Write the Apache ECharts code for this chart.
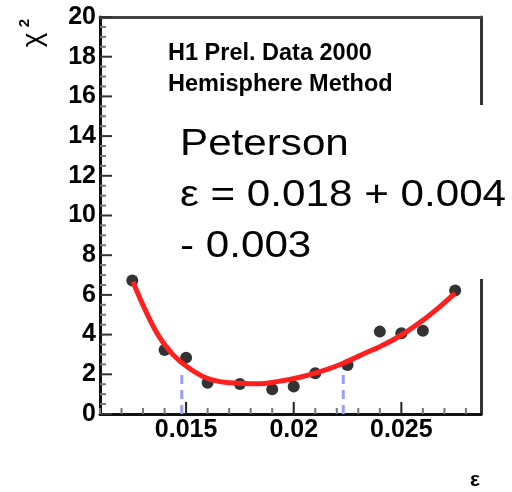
<!DOCTYPE html>
<html>
<head>
<meta charset="utf-8">
<script src="https://cdn.jsdelivr.net/npm/echarts@6/dist/echarts.min.js"></script>
<style>
  html, body { margin: 0; padding: 0; background: #fff; }
  #chart { width: 512px; height: 492px; }
</style>
</head>
<body>
<div id="chart"></div>
<script>
// Measured chi-square values vs. the Peterson fragmentation parameter epsilon
const epsPoints  = [0.0125, 0.014, 0.015, 0.016, 0.0175, 0.019, 0.020, 0.021, 0.0225, 0.024, 0.025, 0.026, 0.0275];
const chi2Points = [6.72, 3.23, 2.84, 1.58, 1.51, 1.25, 1.38, 2.05, 2.47, 4.15, 4.07, 4.19, 6.22];

// Fitted chi-square curve
const fitEps  = [0.01253, 0.01317, 0.01379, 0.0144, 0.01503, 0.0158, 0.01657, 0.0175, 0.01843, 0.01905,
                 0.02029, 0.02137, 0.0223, 0.02346, 0.0240, 0.02501, 0.02602, 0.02679, 0.02749];
const fitChi2 = [6.66, 5.08, 3.82, 2.98, 2.39, 1.88, 1.63, 1.55, 1.52, 1.6,
                 1.85, 2.18, 2.56, 3.14, 3.39, 3.98, 4.74, 5.41, 6.09];

// One-sigma interval edges (delta chi-square = 1)
const errEps  = [0.0148, 0.0223];
const errChi2 = [2.25, 2.3];

// Axis ranges and tick positions
const xRange = [0.011, 0.0287];
const xMinorStep = 0.001;
const xMajorTicks = [0.015, 0.02, 0.025];
const xMinorTicks = [0.011, 0.012, 0.013, 0.014, 0.016, 0.017, 0.018, 0.019,
                     0.021, 0.022, 0.023, 0.024, 0.026, 0.027, 0.028];
const yRange = [0, 20];
const yStep = 2;
const yMajorTicks = [0, 2, 4, 6, 8, 10, 12, 14, 16, 18, 20];
const yMinorPerMajor = 4;

// Text blocks
const headerLines = ['H1 Prel. Data 2000', 'Hemisphere Method'];
const fitLines = ['Peterson', 'ε = 0.018 + 0.004', '- 0.003'];
const yTitleParts = ['χ', '2'];
const xTitle = 'ε';

const FONT = '"Liberation Sans", Arial, Helvetica, sans-serif';
const chart = echarts.init(document.getElementById('chart'), null, { renderer: 'canvas' });

const zip = (a, b) => a.map((v, i) => [v, b[i]]);
const tickLabel = { fontFamily: FONT, fontSize: 25, fontWeight: 'bold', color: '#000' };

// sub-divisions between the labelled chi-square ticks
const yMinorTicks = [];
for (let i = 0; i < yMajorTicks.length - 1; i++) {
  for (let k = 1; k < yMinorPerMajor; k++) {
    yMinorTicks.push(yMajorTicks[i] + (yMajorTicks[i + 1] - yMajorTicks[i]) * k / yMinorPerMajor);
  }
}

// label only the major epsilon values
const majorLabel = v => {
  const m = xMajorTicks.find(t => Math.abs(t - v) < 1e-7);
  return m === undefined ? '' : String(m);
};

const errSeries = errEps.map((e, i) => ({
  type: 'line',
  data: [[e, 0], [e, errChi2[i]]],
  symbol: 'none',
  silent: true,
  z: 2,
  lineStyle: { color: '#9c9cff', width: 3, type: [9, 6] }
}));

const textGraphics = [
  // white panel carrying the fit result
  { type: 'rect', z: 50, shape: { x: 160, y: 105, width: 352, height: 174 },
    style: { fill: '#fff' } },
  { type: 'text', z: 51, x: 168, y: 54,
    style: { text: headerLines[0], font: 'bold 23.5px ' + FONT, fill: '#000',
             textAlign: 'left', textVerticalAlign: 'middle' } },
  { type: 'text', z: 51, x: 168, y: 85,
    style: { text: headerLines[1], font: 'bold 23.5px ' + FONT, fill: '#000',
             textAlign: 'left', textVerticalAlign: 'middle' } }
].concat(fitLines.map((t, i) => ({
    type: 'text', z: 51, x: 180, y: 145 + i * 51, scaleX: 1.14,
    style: { text: t, font: '37px ' + FONT, fill: '#000',
             textAlign: 'left', textVerticalAlign: 'middle' }
}))).concat([
  { type: 'text', z: 51, x: 33.5, y: 40, rotation: Math.PI / 2,
    style: { text: yTitleParts[0], font: '28px ' + FONT, fill: '#000',
             textAlign: 'center', textVerticalAlign: 'middle' } },
  { type: 'text', z: 51, x: 25, y: 23, rotation: Math.PI / 2,
    style: { text: yTitleParts[1], font: 'bold 15px ' + FONT, fill: '#000',
             textAlign: 'center', textVerticalAlign: 'middle' } },
  { type: 'text', z: 51, x: 475, y: 480,
    style: { text: xTitle, font: 'bold 21px ' + FONT, fill: '#000',
             textAlign: 'center', textVerticalAlign: 'middle' } }
]);

const option = {
  animation: false,
  grid: { left: 100, top: 17, right: 31, bottom: 78 },
  xAxis: [
    {
      type: 'value', min: xRange[0], max: xRange[1], interval: xMinorStep, position: 'bottom',
      splitLine: { show: false },
      axisLine: { show: true, onZero: false, lineStyle: { color: '#111', width: 3 } },
      axisTick: { show: false },
      axisLabel: Object.assign({ margin: 4, formatter: majorLabel, hideOverlap: false }, tickLabel)
    },
    {
      // upper frame edge
      type: 'value', min: xRange[0], max: xRange[1], position: 'top',
      splitLine: { show: false },
      axisLine: { show: true, onZero: false, lineStyle: { color: '#444', width: 3 } },
      axisTick: { show: false },
      axisLabel: { show: false }
    }
  ],
  yAxis: [
    {
      type: 'value', min: yRange[0], max: yRange[1], interval: yStep, position: 'left',
      splitLine: { show: false },
      axisLine: { show: true, onZero: false, lineStyle: { color: '#111', width: 3 } },
      axisTick: { show: false },
      axisLabel: Object.assign({ margin: 4 }, tickLabel)
    },
    {
      // right frame edge
      type: 'value', min: yRange[0], max: yRange[1], interval: yStep, position: 'right',
      splitLine: { show: false },
      axisLine: { show: true, onZero: false, lineStyle: { color: '#333', width: 3 } },
      axisTick: { show: false },
      axisLabel: { show: false }
    }
  ],
  series: [
    {
      type: 'scatter',
      data: zip(epsPoints, chi2Points),
      symbol: 'circle',
      symbolSize: 12,
      itemStyle: { color: '#000' },
      z: 3
    },
    {
      type: 'line',
      data: zip(fitEps, fitChi2),
      smooth: 0.4,
      symbol: 'none',
      lineStyle: { color: '#ff2020', width: 5 },
      z: 4
    }
  ].concat(errSeries),
  graphic: textGraphics
};

chart.setOption(option);

// inward tick marks, placed through the axis scales once the grid is laid out
const toX = v => chart.convertToPixel({ xAxisIndex: 0 }, v);
const toY = v => chart.convertToPixel({ yAxisIndex: 0 }, v);
const axisX = toX(xRange[0]);
const axisY = toY(yRange[0]);
const tickLine = (x1, y1, x2, y2, color) => ({
  type: 'line', z: 40, silent: true,
  shape: { x1: x1, y1: y1, x2: x2, y2: y2 },
  style: { stroke: color, lineWidth: 2 }
});
const tickGraphics = []
  .concat(yMajorTicks.map(v => tickLine(axisX, toY(v), axisX + 12, toY(v), '#333')))
  .concat(yMinorTicks.map(v => tickLine(axisX, toY(v), axisX + 6, toY(v), '#777')))
  .concat(xMajorTicks.map(v => tickLine(toX(v), axisY, toX(v), axisY - 12, '#222')))
  .concat(xMinorTicks.map(v => tickLine(toX(v), axisY, toX(v), axisY - 6, '#777')));

chart.setOption({ graphic: textGraphics.concat(tickGraphics) });
</script>
</body>
</html>
